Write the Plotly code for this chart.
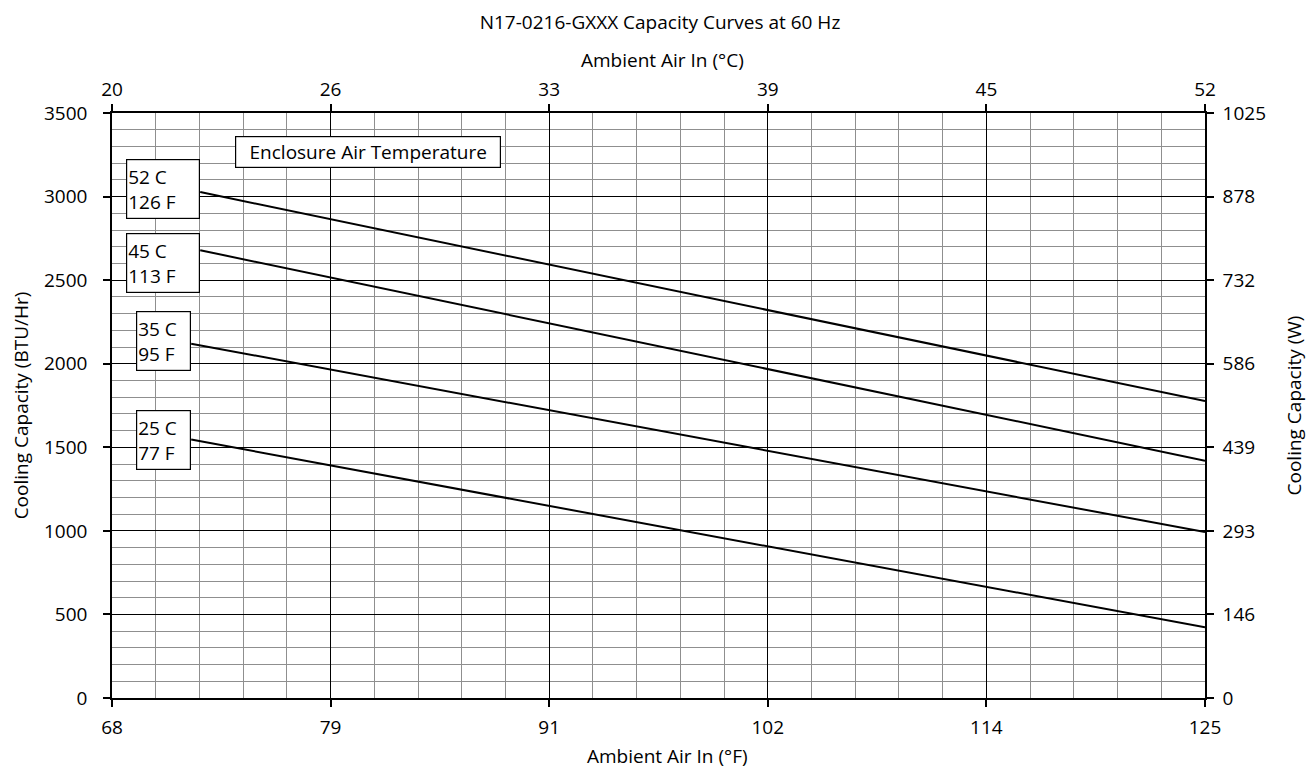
import plotly.graph_objects as go

# ---- data ----
fahrenheit_ticks = [68, 79.4, 90.8, 102.2, 113.6, 125]
fahrenheit_labels = ["68", "79", "91", "102", "114", "125"]
celsius_labels = ["20", "26", "33", "39", "45", "52"]
btu_ticks = [0, 500, 1000, 1500, 2000, 2500, 3000, 3500]
btu_labels = ["0", "500", "1000", "1500", "2000", "2500", "3000", "3500"]
watt_labels = ["0", "146", "293", "439", "586", "732", "878", "1025"]

series_names = ["52 C<br>126 F", "45 C<br>113 F", "35 C<br>95 F", "25 C<br>77 F"]
ambient_52 = [72.6, 125]
capacity_52 = [3027, 1777]
ambient_45 = [72.6, 125]
capacity_45 = [2679, 1420]
ambient_35 = [72.13, 125]
capacity_35 = [2120, 993]
ambient_25 = [72.13, 125]
capacity_25 = [1546, 423]

# label box centres (BTU) and box widths (px)
label_y = [3048, 2604, 2133, 1546]
label_w = [70, 70, 51, 51]

FONT = "Open Sans"
FS = 19

fig = go.Figure()
series = [(ambient_52, capacity_52), (ambient_45, capacity_45),
          (ambient_35, capacity_35), (ambient_25, capacity_25)]
for name, (xs, ys) in zip(series_names, series):
    fig.add_trace(go.Scatter(x=xs, y=ys, mode="lines", name=name,
                             line=dict(color="black", width=2),
                             showlegend=False, hoverinfo="skip"))

# invisible anchor trace so the top (°C) and right (W) axes are drawn
fig.add_trace(go.Scatter(x=[fahrenheit_ticks[0]], y=[btu_ticks[0]],
                         xaxis="x2", yaxis="y2", mode="markers",
                         marker=dict(size=1, opacity=0), showlegend=False,
                         hoverinfo="skip"))

for name, (xs, ys), ly, w in zip(series_names, series, label_y, label_w):
    fig.add_annotation(x=xs[0], y=ly, xref="x", yref="y", text=name,
                       showarrow=False, xanchor="right", yanchor="middle",
                       align="left", valign="middle", width=w, height=56,
                       bgcolor="white", bordercolor="black", borderwidth=1.2,
                       borderpad=1, font=dict(family=FONT, size=FS, color="black"))

fig.add_annotation(x=81.36, y=3265, xref="x", yref="y",
                   text="Enclosure Air Temperature", showarrow=False,
                   xanchor="center", yanchor="middle", width=262, height=28,
                   bgcolor="white", bordercolor="black", borderwidth=1.2,
                   borderpad=1, font=dict(family=FONT, size=FS, color="black"))

# top axis title (°C) and bottom axis title (°F)
fig.add_annotation(x=0.504, y=1 + (112.7 - 60) / 585, xref="paper", yref="paper",
                   text="Ambient Air In (°C)", showarrow=False,
                   xanchor="center", yanchor="middle",
                   font=dict(family=FONT, size=FS, color="black"))
fig.add_annotation(x=(667 - 112) / 1093, y=-(756 - 697.7) / 585,
                   xref="paper", yref="paper",
                   text="Ambient Air In (°F)", showarrow=False,
                   xanchor="center", yanchor="middle",
                   font=dict(family=FONT, size=FS, color="black"))

axis_common = dict(showline=True, linecolor="black", linewidth=1.5,
                   ticks="outside", ticklen=7, tickcolor="black", tickwidth=1.5,
                   tickfont=dict(family=FONT, size=FS, color="black"),
                   zeroline=False)

fig.update_layout(
    width=1306, height=760,
    paper_bgcolor="white", plot_bgcolor="white",
    margin=dict(l=104, r=109, t=105, b=70, autoexpand=False),
    font=dict(family=FONT, size=FS, color="black"),
    title=dict(text="N17-0216-GXXX Capacity Curves at 60 Hz",
               x=(660 - 8) / 1306, xanchor="center", y=1 - 14 / 760,
               yanchor="middle",
               font=dict(family=FONT, size=FS, color="black")),
    xaxis=dict(range=[68, 125], tickmode="array", tickvals=fahrenheit_ticks,
               ticktext=fahrenheit_labels, showgrid=True, gridcolor="black",
               gridwidth=1.2, ticklabelstandoff=4,
               minor=dict(tick0=68, dtick=2.28, showgrid=True,
                          gridcolor="#8f8f8f", gridwidth=1, ticks=""),
               **axis_common),
    xaxis2=dict(range=[68, 125], overlaying="x", side="top", tickmode="array",
                tickvals=fahrenheit_ticks, ticktext=celsius_labels,
                showgrid=False, ticklabelstandoff=1,
                **axis_common),
    yaxis=dict(range=[0, 3500], tickmode="array", tickvals=btu_ticks,
               ticktext=btu_labels, showgrid=True, gridcolor="black",
               gridwidth=1.2, ticklabelstandoff=12,
               minor=dict(tick0=0, dtick=100, showgrid=True,
                          gridcolor="#8f8f8f", gridwidth=1, ticks=""),
               title=dict(text="Cooling Capacity (BTU/Hr)", standoff=14,
                          font=dict(family=FONT, size=FS)),
               **axis_common),
    yaxis2=dict(range=[0, 3500], overlaying="y", side="right", tickmode="array",
                tickvals=btu_ticks, ticktext=watt_labels, showgrid=False,
                ticklabelstandoff=5,
                title=dict(text="Cooling Capacity (W)", standoff=23,
                           font=dict(family=FONT, size=FS)),
                **axis_common),
)

fig.write_html("out.html")
